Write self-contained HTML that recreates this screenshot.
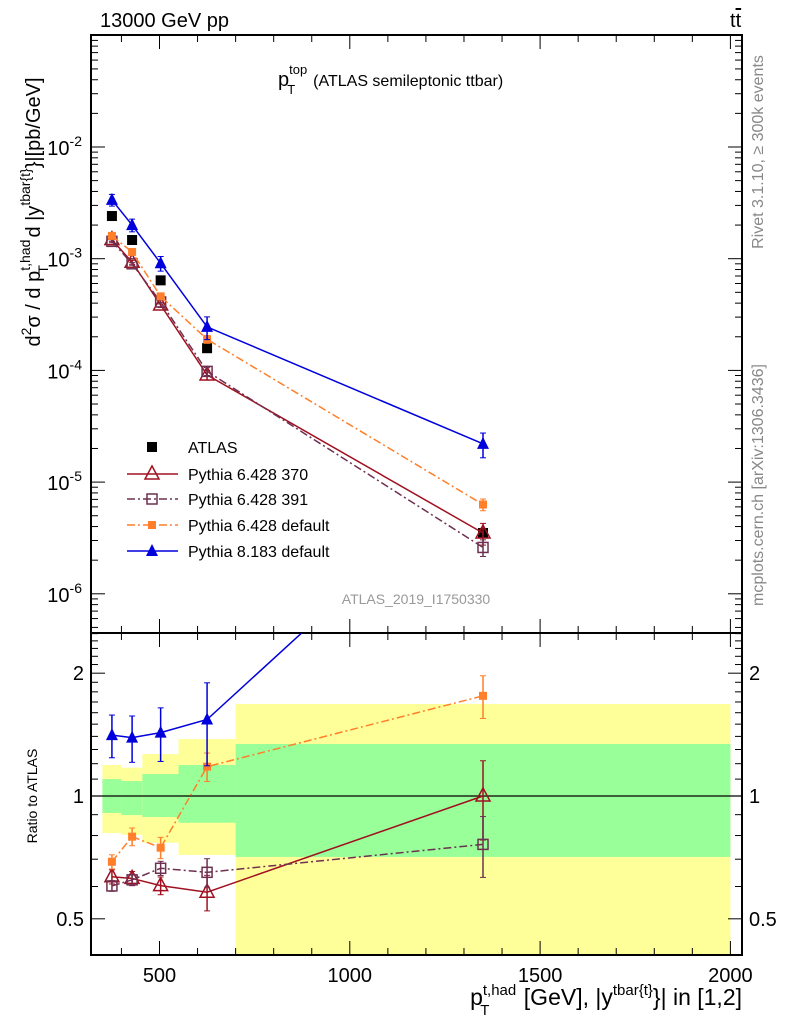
<!DOCTYPE html>
<html><head><meta charset="utf-8"><style>
body{margin:0;background:#fff;}
svg{display:block;font-family:"Liberation Sans",sans-serif;}
</style></head><body>
<svg id="c" width="786" height="1024" viewBox="0 0 786 1024"></svg>
<script>
const centers=[375,428,503,625,1350];
const binEdges=[350,400,455,550,700,2000];
const atlas=[2.41e-3,1.47e-3,6.4e-4,1.58e-4,3.5e-6];
const p370=[1.48e-3,9.3e-4,3.85e-4,9.1e-5,3.5e-6];
const p391=[1.43e-3,9.0e-4,4.1e-4,9.8e-5,2.6e-6];
const p6def=[1.6e-3,1.15e-3,4.6e-4,1.9e-4,6.3e-6];
const p8=[3.36e-3,2.0e-3,9.1e-4,2.45e-4,2.2e-5];
const r370=[0.634,0.628,0.603,0.581,1.0];
const r391=[0.602,0.623,0.665,0.65,0.761];
const r6def=[0.69,0.795,0.747,1.18,1.76];
const r8=[1.41,1.39,1.43,1.54,6.4];
const e370=[0.04,0.04,0.05,0.1,0.22];
const e391=[0.03,0.03,0.04,0.08,0.17];
const e6def=[0.04,0.05,0.06,0.08,0.12];
const e8=[0.12,0.13,0.15,0.23,0.25];
const yelTop=[1.191,1.173,1.267,1.379,1.681];
const grnTop=[1.10,1.088,1.132,1.191,1.341];
const grnBot=[0.909,0.898,0.888,0.86,0.709];
const yelBot=[0.811,0.803,0.768,0.717,0.3];
const xTicks=[500,1000,1500,2000];
const mainDecades=[-6,-5,-4,-3,-2];
const ratioTicks=[0.5,1,2];

const NS="http://www.w3.org/2000/svg";
const svg=document.getElementById('c');
function el(t,a,p){const e=document.createElementNS(NS,t);for(const k in a)e.setAttribute(k,a[k]);(p||svg).appendChild(e);return e;}
const L=91,R=742,MT=35,MB=633,RT=633,RB=955;
const X=v=>159.5+(v-500)*0.3806;
const YM=v=>147-(Math.log10(v)+2)*111.7;
const YR=v=>796-Math.log10(v)*408;

const defs=el('defs',{});
const c1=el('clipPath',{id:'cm'},defs);el('rect',{x:L,y:MT,width:R-L,height:MB-MT},c1);
const c2=el('clipPath',{id:'cr'},defs);el('rect',{x:L,y:RT,width:R-L,height:RB-RT},c2);

const gb=el('g',{'clip-path':'url(#cr)'});


for(let i=0;i<5;i++){
  const x0=X(binEdges[i]),x1=X(binEdges[i+1]);
  const y=el('rect',{x:x0,y:YR(yelTop[i]),width:x1-x0,height:YR(yelBot[i])-YR(yelTop[i]),fill:'#ffff99'},gb);
  
  
  const g=el('rect',{x:x0,y:YR(grnTop[i]),width:x1-x0,height:YR(grnBot[i])-YR(grnTop[i]),fill:'#99ff99'},gb);
  
  
}
el('line',{x1:L,x2:R,y1:YR(1),y2:YR(1),stroke:'#000','stroke-width':1.3});

function ticksX(y0,top){
  for(let v=400;v<=2000;v+=100){const x=X(v);if(x<L||x>R)continue;const big=v%500==0;
    const h=big?14:7;
    el('line',{x1:x,x2:x,y1:y0,y2:y0+(top?h:-h),stroke:'#000'});}
}
ticksX(MT,true);ticksX(MB,false);ticksX(RT,true);ticksX(RB,false);
for(let d=-7;d<=0;d++){for(let m=1;m<10;m++){const v=m*Math.pow(10,d);const y=YM(v);if(y<MT||y>MB)continue;const h=m==1?14:7;
  el('line',{x1:L,x2:L+h,y1:y,y2:y,stroke:'#000'});el('line',{x1:R,x2:R-h,y1:y,y2:y,stroke:'#000'});}}
for(let v=0.4;v<2.55;v+=0.1){const y=YR(v);if(y<RT||y>RB)continue;const vv=Math.round(v*10)/10;const big=(vv==0.5||vv==1||vv==2);const h=big?14:7;
  el('line',{x1:L,x2:L+h,y1:y,y2:y,stroke:'#000'});el('line',{x1:R,x2:R-h,y1:y,y2:y,stroke:'#000'});}

el('rect',{x:L,y:MT,width:R-L,height:MB-MT,fill:'none',stroke:'#000','stroke-width':2});
el('rect',{x:L,y:RT,width:R-L,height:RB-RT,fill:'none',stroke:'#000','stroke-width':2});

function txt(s,a,name){const t=el('text',a);t.innerHTML=s;return t;}
xTicks.forEach(v=>txt(v,{x:X(v),y:982,'font-size':20,'text-anchor':'middle'},'x-tick-'+v));
mainDecades.forEach(d=>txt('10<tspan dy="-9" font-size="14">'+d+'</tspan>',{x:82,y:YM(Math.pow(10,d))+8,'font-size':20,'text-anchor':'end'},'y-tick-1e'+d));
ratioTicks.forEach(v=>{txt(v,{x:84,y:YR(v)+7,'font-size':20,'text-anchor':'end'},'ratio-tick-left-'+v);txt(v,{x:749,y:YR(v)+7,'font-size':20},'ratio-tick-right-'+v);});

txt('13000 GeV pp',{x:100,y:27,'font-size':20},'energy-label');
txt('t<tspan text-decoration="overline">t</tspan>',{x:730,y:27,'font-size':20},'process-label');
txt('p<tspan dy="-12" font-size="13">top</tspan><tspan dx="-20" dy="20" font-size="13">T</tspan><tspan dy="-8" dx="18" font-size="16">(ATLAS semileptonic ttbar)</tspan>',{x:278,y:86,'font-size':20},'plot-title');
txt('ATLAS_2019_I1750330',{x:416,y:604,'font-size':14,fill:'#999','text-anchor':'middle'},'analysis-id');
txt('Rivet 3.1.10, ≥ 300k events',{x:0,y:0,'font-size':16,fill:'#888','text-anchor':'middle',transform:'translate(763,152) rotate(-90)'},'rivet-label');
txt('mcplots.cern.ch [arXiv:1306.3436]',{x:0,y:0,'font-size':16,fill:'#888','text-anchor':'middle',transform:'translate(763,485) rotate(-90)'},'mcplots-label');
txt('d<tspan dy="-9" font-size="14">2</tspan><tspan dy="9">σ / d p</tspan><tspan dy="-10" font-size="14">t,had</tspan><tspan dx="-34" dy="18" font-size="14">T</tspan><tspan dy="-8" dx="22"> d |y</tspan><tspan dy="-10" font-size="14">tbar{t}</tspan><tspan dy="10">}|[pb/GeV]</tspan>',{x:0,y:0,'font-size':20,'text-anchor':'middle',transform:'translate(40,212) rotate(-90)'},'y-axis-title');
txt('Ratio to ATLAS',{x:0,y:0,'font-size':14,'text-anchor':'middle',transform:'translate(37,796) rotate(-90)'},'ratio-axis-title');
txt('p<tspan dy="-10" font-size="15">t,had</tspan><tspan dx="-36" dy="20" font-size="15">T</tspan><tspan dx="28" dy="-10"> [GeV], |y</tspan><tspan dy="-10" font-size="15">tbar{t}</tspan><tspan dy="10">}| in [1,2]</tspan>',{x:742,y:1005,'font-size':23,'text-anchor':'end'},'x-axis-title');

function marker(g,type,x,y,col,name){
  let m;
  if(type=='sq') m=el('rect',{x:x-5,y:y-5,width:10,height:10,fill:col},g);
  if(type=='osq') m=el('rect',{x:x-5,y:y-5,width:10,height:10,fill:'none',stroke:col,'stroke-width':1.5},g);
  if(type=='ssq') m=el('rect',{x:x-4,y:y-4,width:8,height:8,fill:col},g);
  if(type=='tri') m=el('polygon',{points:`${x},${y-7} ${x-6},${y+5} ${x+6},${y+5}`,fill:col},g);
  if(type=='otri') m=el('polygon',{points:`${x},${y-8} ${x-7},${y+5} ${x+7},${y+5}`,fill:'none',stroke:col,'stroke-width':1.5},g);
  
  
}
const series=[
 {n:'pythia6-370',m:p370,r:r370,e:e370,c:'#a01020',t:'otri',d:''},
 {n:'pythia6-391',m:p391,r:r391,e:e391,c:'#6e3050',t:'osq',d:'8,3,2,3'},
 {n:'pythia6-default',m:p6def,r:r6def,e:e6def,c:'#ff7f2a',t:'ssq',d:'8,3,2,3'},
 {n:'pythia8-default',m:p8,r:r8,e:e8,c:'#0000dd',t:'tri',d:''}];
function draw(s,vals,Y,clip,tag){
  const g=el('g',{'clip-path':clip});
  
  
  el('polyline',{points:vals.map((v,i)=>X(centers[i])+','+Y(v)).join(' '),fill:'none',stroke:s.c,'stroke-width':1.5,'stroke-dasharray':s.d},g);
  vals.forEach((v,i)=>{const x=X(centers[i]);const y1=Y(v*(1+s.e[i])),y2=Y(v*(1-s.e[i]));
    el('line',{x1:x,x2:x,y1:y1,y2:y2,stroke:s.c,'stroke-width':1.5},g);
    el('line',{x1:x-3,x2:x+3,y1:y1,y2:y1,stroke:s.c},g);el('line',{x1:x-3,x2:x+3,y1:y2,y2:y2,stroke:s.c},g);
    marker(g,s.t,x,Y(v),s.c,s.n+'-'+tag+'-point-'+i);});
}
const ga=el('g',{});
atlas.forEach((v,i)=>marker(ga,'sq',X(centers[i]),YM(v),'#000','atlas-point-'+i));
series.forEach(s=>{draw(s,s.m,YM,'url(#cm)','main');draw(s,s.r,YR,'url(#cr)','ratio');});

const lg=el('g',{});
const labels=['ATLAS','Pythia 6.428 370','Pythia 6.428 391','Pythia 6.428 default','Pythia 8.183 default'];
const ly=[447,474,499,525,551];
marker(lg,'sq',152,ly[0],'#000','legend-atlas-marker');
series.forEach((s,i)=>{el('line',{x1:127,x2:178,y1:ly[i+1],y2:ly[i+1],stroke:s.c,'stroke-width':1.5,'stroke-dasharray':s.d},lg);marker(lg,s.t,152,ly[i+1],s.c,'legend-marker-'+s.n);});
labels.forEach((l,i)=>txt(l,{x:188,y:ly[i]+6,'font-size':16},'legend-entry-'+i));
</script>
</body></html>
